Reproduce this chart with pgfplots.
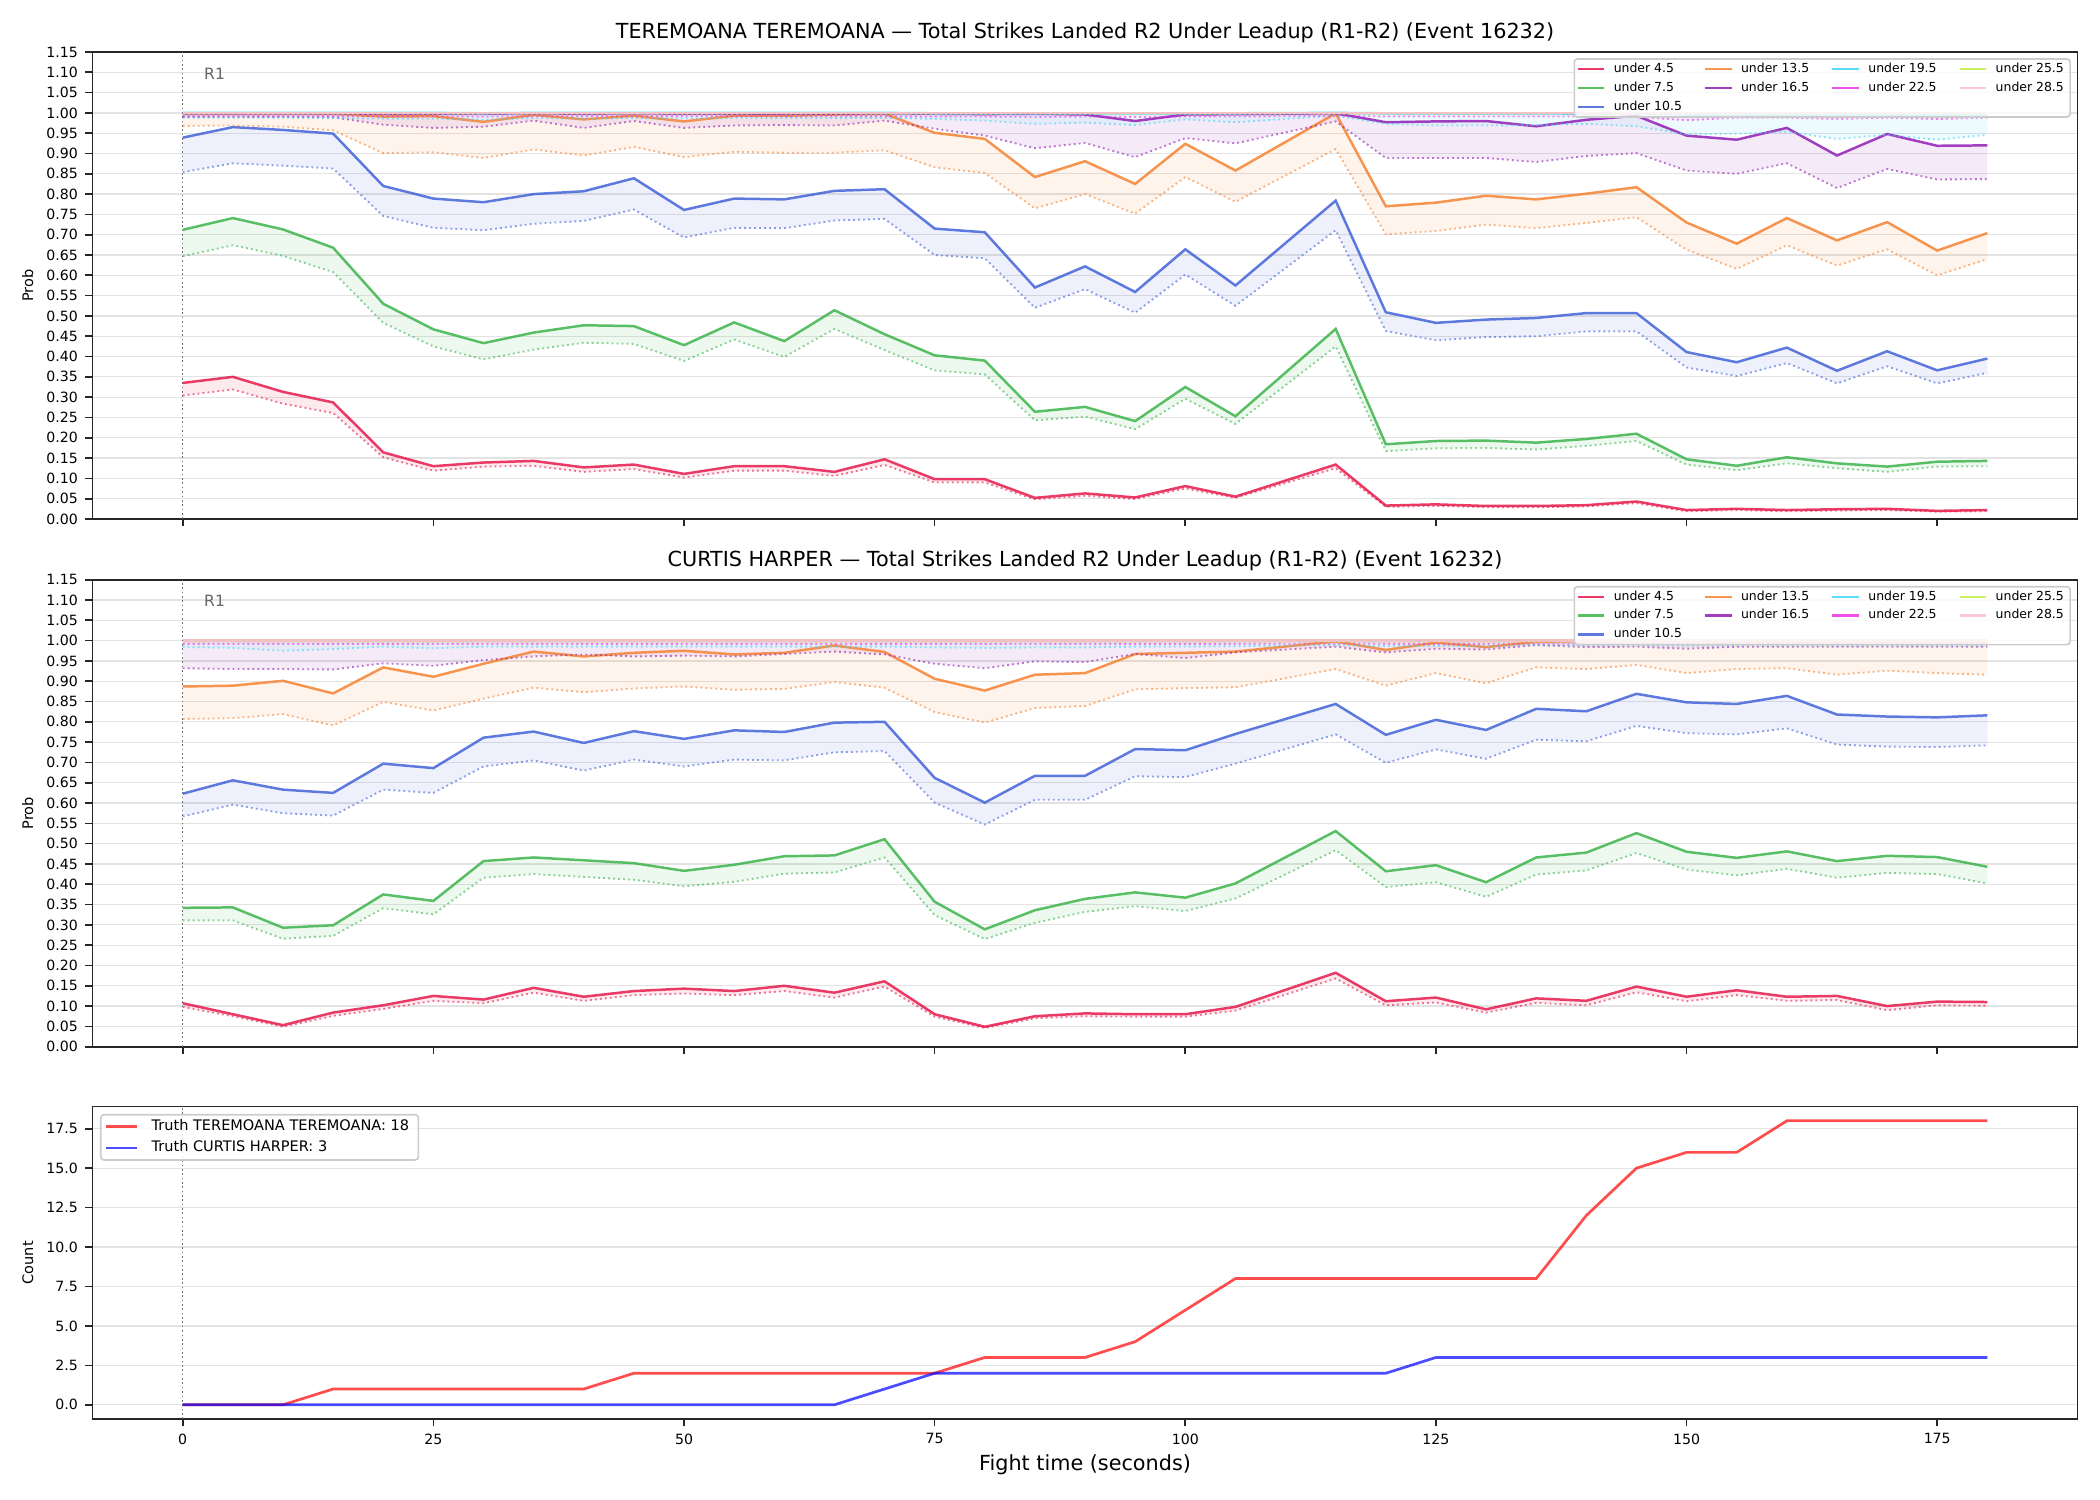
\documentclass[border=0pt]{standalone}
\usepackage{fontspec}
\setmainfont{DejaVu Sans}
\usepackage{pgfplots}
\pgfplotsset{compat=1.18}
\usepackage{pgfplotstable}
\usepgfplotslibrary{fillbetween}

\definecolor{c4}{HTML}{E6194B}
\definecolor{c7}{HTML}{3CB44B}
\definecolor{c10}{HTML}{4363D8}
\definecolor{c13}{HTML}{F58231}
\definecolor{c16}{HTML}{911EB4}
\definecolor{c19}{HTML}{42D4F4}
\definecolor{c22}{HTML}{F032E6}
\definecolor{c25}{HTML}{BFEF45}
\definecolor{c28}{HTML}{FABED4}
\definecolor{truthred}{HTML}{FF0000}
\definecolor{truthblue}{HTML}{0000FF}

% s = latest price, d = lower (dotted) reference, per line
\pgfplotstableread{
x s4 d4 s7 d7 s10 d10 s13 d13 s16 d16 s19 d19 s22 d22 s25 d25 s28 d28
0 0.335 0.304 0.712 0.647 0.939 0.854 0.999 0.968 0.999 0.990 1.000 0.988 1.000 0.992 1.000 0.997 1.000 0.999
5 0.350 0.319 0.741 0.674 0.965 0.876 0.999 0.969 0.999 0.990 1.000 0.988 1.000 0.992 1.000 0.997 1.000 0.999
10 0.313 0.284 0.713 0.648 0.958 0.870 0.999 0.966 0.999 0.990 1.000 0.988 1.000 0.992 1.000 0.997 1.000 0.999
15 0.287 0.261 0.668 0.608 0.949 0.863 0.998 0.957 0.999 0.989 1.000 0.987 1.000 0.992 1.000 0.997 1.000 0.999
20 0.164 0.152 0.530 0.483 0.820 0.746 0.991 0.901 0.998 0.971 1.000 0.986 1.000 0.992 1.000 0.997 1.000 0.999
25 0.130 0.119 0.467 0.425 0.789 0.717 0.992 0.903 0.998 0.963 1.000 0.986 1.000 0.992 1.000 0.997 1.000 0.999
30 0.139 0.129 0.433 0.393 0.780 0.711 0.978 0.889 0.998 0.966 0.999 0.983 1.000 0.991 1.000 0.997 1.000 0.999
35 0.143 0.131 0.459 0.417 0.800 0.727 0.995 0.910 0.999 0.981 1.000 0.987 1.000 0.992 1.000 0.997 1.000 0.999
40 0.127 0.116 0.477 0.434 0.807 0.734 0.984 0.895 0.998 0.963 1.000 0.986 1.000 0.992 1.000 0.997 1.000 0.999
45 0.134 0.123 0.475 0.431 0.839 0.762 0.993 0.916 0.999 0.980 1.000 0.987 1.000 0.992 1.000 0.997 1.000 0.999
50 0.111 0.102 0.428 0.389 0.761 0.693 0.979 0.891 0.998 0.963 1.000 0.986 1.000 0.992 1.000 0.997 1.000 0.999
55 0.130 0.119 0.484 0.442 0.789 0.717 0.993 0.904 0.998 0.969 1.000 0.987 1.000 0.992 1.000 0.997 1.000 0.999
60 0.130 0.119 0.438 0.399 0.787 0.716 0.993 0.902 0.998 0.970 1.000 0.987 1.000 0.992 1.000 0.997 1.000 0.999
65 0.116 0.106 0.514 0.468 0.808 0.735 0.996 0.902 0.998 0.969 1.000 0.987 1.000 0.992 1.000 0.997 1.000 0.999
70 0.147 0.133 0.455 0.416 0.812 0.739 0.998 0.908 0.999 0.981 1.000 0.988 1.000 0.992 1.000 0.997 1.000 0.999
75 0.098 0.090 0.403 0.366 0.715 0.650 0.951 0.866 0.998 0.961 0.999 0.985 1.000 0.991 1.000 0.997 1.000 0.999
80 0.098 0.090 0.390 0.356 0.706 0.642 0.936 0.852 0.997 0.944 0.999 0.981 1.000 0.991 1.000 0.997 1.000 0.999
85 0.052 0.048 0.264 0.243 0.570 0.520 0.842 0.765 0.998 0.913 0.999 0.973 1.000 0.990 1.000 0.997 1.000 0.999
90 0.063 0.057 0.276 0.252 0.622 0.566 0.881 0.800 0.996 0.926 0.999 0.976 1.000 0.991 1.000 0.997 1.000 0.999
95 0.053 0.049 0.241 0.221 0.559 0.508 0.825 0.752 0.980 0.891 0.999 0.970 1.000 0.990 1.000 0.997 1.000 0.999
100 0.081 0.075 0.325 0.296 0.664 0.602 0.924 0.842 0.996 0.938 0.999 0.984 1.000 0.991 1.000 0.997 1.000 0.999
105 0.055 0.052 0.253 0.234 0.575 0.525 0.858 0.781 0.997 0.925 0.999 0.977 1.000 0.991 1.000 0.997 1.000 0.999
115 0.134 0.125 0.468 0.425 0.784 0.711 0.999 0.911 0.999 0.979 1.000 0.993 1.000 0.993 1.000 0.997 1.000 0.999
120 0.033 0.030 0.184 0.167 0.509 0.463 0.770 0.701 0.977 0.889 0.999 0.973 1.000 0.991 1.000 0.997 1.000 0.999
125 0.036 0.032 0.192 0.174 0.483 0.440 0.779 0.709 0.979 0.889 0.999 0.969 1.000 0.991 1.000 0.997 1.000 0.999
130 0.032 0.029 0.193 0.175 0.491 0.448 0.796 0.725 0.980 0.889 0.999 0.969 1.000 0.991 1.000 0.997 1.000 0.999
135 0.032 0.029 0.188 0.171 0.495 0.450 0.787 0.716 0.967 0.879 0.999 0.970 1.000 0.991 1.000 0.997 1.000 0.999
140 0.034 0.031 0.197 0.180 0.507 0.462 0.801 0.729 0.983 0.894 0.998 0.973 1.000 0.991 1.000 0.997 1.000 0.999
145 0.043 0.039 0.210 0.192 0.507 0.462 0.817 0.743 0.993 0.901 0.999 0.967 1.000 0.990 1.000 0.997 1.000 0.999
150 0.022 0.019 0.147 0.134 0.411 0.373 0.730 0.663 0.944 0.858 0.996 0.947 1.000 0.982 1.000 0.997 1.000 0.999
155 0.025 0.022 0.131 0.120 0.386 0.352 0.678 0.616 0.934 0.850 0.996 0.949 1.000 0.988 1.000 0.997 1.000 0.999
160 0.022 0.019 0.152 0.137 0.422 0.384 0.741 0.674 0.963 0.876 0.996 0.953 1.000 0.988 1.000 0.997 1.000 0.999
165 0.024 0.021 0.137 0.125 0.365 0.334 0.686 0.624 0.895 0.815 0.995 0.936 1.000 0.985 1.000 0.997 1.000 0.999
170 0.025 0.022 0.129 0.116 0.413 0.376 0.731 0.664 0.948 0.862 0.996 0.946 1.000 0.988 1.000 0.997 1.000 0.999
175 0.020 0.018 0.141 0.129 0.366 0.334 0.661 0.600 0.919 0.836 0.995 0.934 1.000 0.985 1.000 0.997 1.000 0.999
180 0.022 0.019 0.143 0.130 0.395 0.360 0.704 0.640 0.920 0.837 0.996 0.946 1.000 0.988 1.000 0.997 1.000 0.999
}\teremoana

\pgfplotstableread{
x s4 d4 s7 d7 s10 d10 s13 d13 s16 d16 s19 d19 s22 d22 s25 d25 s28 d28
0 0.107 0.098 0.342 0.311 0.623 0.567 0.887 0.807 0.999 0.932 1.000 0.984 1.000 0.992 1.000 0.997 1.000 0.999
5 0.080 0.075 0.343 0.311 0.656 0.596 0.889 0.809 0.999 0.930 1.000 0.982 1.000 0.992 1.000 0.997 1.000 0.999
10 0.053 0.049 0.293 0.266 0.633 0.575 0.901 0.819 0.999 0.930 1.000 0.975 1.000 0.992 1.000 0.997 1.000 0.999
15 0.084 0.076 0.299 0.273 0.625 0.569 0.870 0.791 0.999 0.929 1.000 0.979 1.000 0.992 1.000 0.997 1.000 0.999
20 0.102 0.093 0.375 0.341 0.697 0.633 0.934 0.849 0.999 0.944 1.000 0.985 1.000 0.992 1.000 0.997 1.000 0.999
25 0.125 0.113 0.359 0.326 0.686 0.625 0.911 0.828 0.999 0.938 1.000 0.981 1.000 0.992 1.000 0.997 1.000 0.999
30 0.116 0.107 0.457 0.416 0.761 0.690 0.943 0.857 0.999 0.952 1.000 0.985 1.000 0.992 1.000 0.997 1.000 0.999
35 0.145 0.133 0.466 0.425 0.776 0.705 0.973 0.884 0.999 0.961 1.000 0.985 1.000 0.992 1.000 0.997 1.000 0.999
40 0.123 0.113 0.459 0.418 0.748 0.680 0.961 0.873 0.999 0.966 1.000 0.985 1.000 0.992 1.000 0.997 1.000 0.999
45 0.137 0.127 0.452 0.411 0.777 0.707 0.970 0.882 0.999 0.961 1.000 0.985 1.000 0.992 1.000 0.997 1.000 0.999
50 0.143 0.131 0.433 0.395 0.758 0.690 0.975 0.887 0.999 0.963 1.000 0.985 1.000 0.992 1.000 0.997 1.000 0.999
55 0.137 0.127 0.448 0.406 0.779 0.707 0.966 0.879 0.999 0.961 1.000 0.985 1.000 0.992 1.000 0.997 1.000 0.999
60 0.150 0.137 0.469 0.426 0.775 0.705 0.970 0.881 0.999 0.967 1.000 0.985 1.000 0.992 1.000 0.997 1.000 0.999
65 0.133 0.121 0.471 0.429 0.798 0.725 0.988 0.898 0.999 0.973 1.000 0.985 1.000 0.992 1.000 0.997 1.000 0.999
70 0.161 0.148 0.511 0.466 0.800 0.728 0.972 0.884 0.999 0.966 1.000 0.985 1.000 0.992 1.000 0.997 1.000 0.999
75 0.080 0.074 0.357 0.324 0.662 0.601 0.906 0.824 0.999 0.943 1.000 0.983 1.000 0.992 1.000 0.997 1.000 0.999
80 0.049 0.046 0.289 0.265 0.601 0.547 0.877 0.798 0.999 0.932 1.000 0.982 1.000 0.992 1.000 0.997 1.000 0.999
85 0.075 0.070 0.336 0.305 0.667 0.608 0.916 0.834 0.999 0.949 1.000 0.983 1.000 0.992 1.000 0.997 1.000 0.999
90 0.082 0.075 0.364 0.332 0.667 0.608 0.920 0.839 0.999 0.947 1.000 0.983 1.000 0.992 1.000 0.997 1.000 0.999
95 0.080 0.074 0.380 0.346 0.733 0.666 0.967 0.880 0.999 0.967 1.000 0.985 1.000 0.992 1.000 0.997 1.000 0.999
100 0.080 0.074 0.367 0.334 0.730 0.664 0.970 0.883 0.999 0.957 1.000 0.985 1.000 0.992 1.000 0.997 1.000 0.999
105 0.098 0.089 0.402 0.365 0.770 0.697 0.973 0.885 0.999 0.971 1.000 0.986 1.000 0.992 1.000 0.997 1.000 0.999
115 0.182 0.168 0.531 0.484 0.844 0.769 0.998 0.930 0.999 0.985 1.000 0.989 1.000 0.993 1.000 0.997 1.000 0.999
120 0.112 0.102 0.432 0.393 0.768 0.699 0.977 0.889 0.999 0.971 1.000 0.986 1.000 0.992 1.000 0.997 1.000 0.999
125 0.121 0.109 0.447 0.405 0.805 0.732 0.995 0.920 0.999 0.980 1.000 0.987 1.000 0.992 1.000 0.997 1.000 0.999
130 0.092 0.084 0.405 0.369 0.780 0.709 0.984 0.895 0.999 0.978 1.000 0.986 1.000 0.992 1.000 0.997 1.000 0.999
135 0.119 0.108 0.466 0.424 0.832 0.756 0.997 0.934 0.999 0.989 1.000 0.989 1.000 0.993 1.000 0.997 1.000 0.999
140 0.113 0.102 0.478 0.434 0.826 0.752 0.999 0.930 0.999 0.984 1.000 0.988 1.000 0.992 1.000 0.997 1.000 0.999
145 0.148 0.134 0.526 0.477 0.869 0.790 1.000 0.940 0.999 0.985 1.000 0.989 1.000 0.993 1.000 0.997 1.000 0.999
150 0.123 0.112 0.480 0.436 0.848 0.772 0.999 0.920 0.999 0.980 1.000 0.987 1.000 0.992 1.000 0.997 1.000 0.999
155 0.139 0.127 0.465 0.422 0.844 0.769 0.999 0.930 0.999 0.985 1.000 0.988 1.000 0.992 1.000 0.997 1.000 0.999
160 0.123 0.113 0.481 0.438 0.864 0.784 0.999 0.932 0.999 0.985 1.000 0.988 1.000 0.992 1.000 0.997 1.000 0.999
165 0.125 0.115 0.457 0.416 0.818 0.744 0.999 0.916 0.999 0.985 1.000 0.988 1.000 0.992 1.000 0.997 1.000 0.999
170 0.100 0.090 0.470 0.428 0.813 0.739 0.999 0.926 0.999 0.985 1.000 0.988 1.000 0.992 1.000 0.997 1.000 0.999
175 0.111 0.102 0.467 0.425 0.811 0.738 0.999 0.920 0.999 0.985 1.000 0.988 1.000 0.992 1.000 0.997 1.000 0.999
180 0.110 0.101 0.443 0.402 0.816 0.742 0.999 0.916 0.999 0.985 1.000 0.988 1.000 0.992 1.000 0.997 1.000 0.999
}\harper

\pgfplotstableread{
x red blue
0 0 0
5 0 0
10 0 0
15 1 0
20 1 0
25 1 0
30 1 0
35 1 0
40 1 0
45 2 0
50 2 0
55 2 0
60 2 0
65 2 0
70 2 1
75 2 2
80 3 2
85 3 2
90 3 2
95 4 2
100 6 2
105 8 2
110 8 2
115 8 2
120 8 2
125 8 3
130 8 3
135 8 3
140 12 3
145 15 3
150 16 3
155 16 3
160 18 3
165 18 3
170 18 3
175 18 3
180 18 3
}\truth

% one threshold: solid line, dotted line and the band between them
\newcommand{\band}[4]{%
  \addplot[forget plot, name path=#2s#3, draw=#4, draw opacity=0.85, line width=1.2pt] table[x=x, y=s#3] {#1};
  \addplot[forget plot, name path=#2d#3, draw=#4, draw opacity=0.6, line width=0.9pt, dash pattern=on 0.9pt off 1.5pt] table[x=x, y=d#3] {#1};
  \addplot[forget plot, draw=none, fill=#4, fill opacity=0.09] fill between[of=#2s#3 and #2d#3];
}

\newcommand{\thresholdlegend}{%
  \addlegendimage{c4, line width=1.2pt, opacity=0.85}\addlegendentry{under 4.5}
  \addlegendimage{c13, line width=1.2pt, opacity=0.85}\addlegendentry{under 13.5}
  \addlegendimage{c19, line width=1.2pt, opacity=0.85}\addlegendentry{under 19.5}
  \addlegendimage{c25, line width=1.2pt, opacity=0.85}\addlegendentry{under 25.5}
  \addlegendimage{c7, line width=1.2pt, opacity=0.85}\addlegendentry{under 7.5}
  \addlegendimage{c16, line width=1.2pt, opacity=0.85}\addlegendentry{under 16.5}
  \addlegendimage{c22, line width=1.2pt, opacity=0.85}\addlegendentry{under 22.5}
  \addlegendimage{c28, line width=1.2pt, opacity=0.85}\addlegendentry{under 28.5}
  \addlegendimage{c10, line width=1.2pt, opacity=0.85}\addlegendentry{under 10.5}
}

\pgfplotsset{
  panel/.style={
    scale only axis, width=956.4pt, anchor=south west,
    xmin=-9, xmax=189,
    xtick={0,25,50,75,100,125,150,175},
    axis line style={line width=0.8pt, black!85},
    tick align=outside, xtick pos=bottom, ytick pos=left,
    major tick length=3.5pt,
    every tick/.style={black!85, line width=0.8pt},
    ymajorgrids, grid style={black!11, line width=0.6pt},
    tick label style={font=\fontsize{6.8}{8}\selectfont},
    /pgf/number format/assume math mode=true,
    scaled ticks=false,
    every axis title/.style={at={(0.5,1)}, anchor=base, yshift=6.5pt, font=\fontsize{10}{12}\selectfont},
    every axis y label/.style={at={(axis description cs:-0.0326,0.5)}, rotate=90, anchor=center, font=\fontsize{7}{8}\selectfont},
  },
  probpanel/.style={
    panel, height=225pt,
    ymin=0, ymax=1.15,
    ytick={0,0.05,0.1,0.15,0.2,0.25,0.3,0.35,0.4,0.45,0.5,0.55,0.6,0.65,0.7,0.75,0.8,0.85,0.9,0.95,1,1.05,1.1,1.15},
    yticklabel style={/pgf/number format/.cd, fixed, fixed zerofill, precision=2},
    xticklabels={},
    ylabel={Prob},
    legend columns=4, legend cell align=left,
    legend image code/.code={\draw[##1] (0pt,0pt) -- (12.8pt,0pt);},
    legend style={
      at={(1,1)}, anchor=north east, xshift=-3.2pt, yshift=-3pt,
      draw=black!20, line width=0.8pt, rounded corners=1.5pt,
      fill=white, fill opacity=0.8, text opacity=1,
      font=\fontsize{6}{7}\selectfont,
      inner xsep=1pt, inner ysep=0.3pt,
      nodes={inner xsep=2pt, inner ysep=1.7pt, text height=4.4pt, text depth=1.3pt},
      /tikz/every odd column/.append style={column sep=2pt},
      /tikz/every even column/.append style={column sep=8.5pt},
    },
  },
}

\begin{document}
\begin{tikzpicture}
\path (0,0) rectangle (1011.78pt,722.7pt);

% upper panel
\begin{axis}[probpanel, at={(44.57pt,472.65pt)},
  title={TEREMOANA TEREMOANA — Total Strikes Landed R2 Under Leadup (R1-R2) (Event 16232)}]
  \addplot[forget plot, black!55, line width=0.7pt, dash pattern=on 0.8pt off 1.3pt] coordinates {(0,0) (0,1.15)};
  \band{\teremoana}{t}{4}{c4}
  \band{\teremoana}{t}{7}{c7}
  \band{\teremoana}{t}{10}{c10}
  \band{\teremoana}{t}{13}{c13}
  \band{\teremoana}{t}{16}{c16}
  \band{\teremoana}{t}{19}{c19}
  \band{\teremoana}{t}{22}{c22}
  \band{\teremoana}{t}{25}{c25}
  \band{\teremoana}{t}{28}{c28}
  \node[anchor=west, inner sep=0pt, text=black!60, font=\fontsize{7.5}{9}\selectfont] at (axis cs:2.1,1.097) {R1};
  \thresholdlegend
\end{axis}

% middle panel
\begin{axis}[probpanel, at={(44.57pt,218.4pt)},
  title={CURTIS HARPER — Total Strikes Landed R2 Under Leadup (R1-R2) (Event 16232)}]
  \addplot[forget plot, black!55, line width=0.7pt, dash pattern=on 0.8pt off 1.3pt] coordinates {(0,0) (0,1.15)};
  \band{\harper}{h}{4}{c4}
  \band{\harper}{h}{7}{c7}
  \band{\harper}{h}{10}{c10}
  \band{\harper}{h}{13}{c13}
  \band{\harper}{h}{16}{c16}
  \band{\harper}{h}{19}{c19}
  \band{\harper}{h}{22}{c22}
  \band{\harper}{h}{25}{c25}
  \band{\harper}{h}{28}{c28}
  \node[anchor=west, inner sep=0pt, text=black!60, font=\fontsize{7.5}{9}\selectfont] at (axis cs:2.1,1.097) {R1};
  \thresholdlegend
\end{axis}

% cumulative counts
\begin{axis}[panel, at={(44.57pt,39.03pt)}, height=150.5pt,
  ymin=-0.9, ymax=18.9,
  ytick={0,2.5,5,7.5,10,12.5,15,17.5},
  yticklabel style={/pgf/number format/.cd, fixed, fixed zerofill, precision=1},
  xticklabel style={/pgf/number format/.cd, fixed, precision=0},
  ylabel={Count},
  xlabel={Fight time (seconds)},
  every axis x label/.style={at={(axis description cs:0.5,-0.1475)}, anchor=center, font=\fontsize{10}{12}\selectfont},
  legend cell align=left,
  legend image code/.code={\draw[#1] (0pt,0pt) -- (14.7pt,0pt);},
  legend style={
    at={(0,1)}, anchor=north west, xshift=3.6pt, yshift=-3.5pt,
    draw=black!20, line width=0.8pt, rounded corners=1.5pt,
    fill=white, fill opacity=0.8, text opacity=1,
    font=\fontsize{7}{8}\selectfont,
    inner xsep=2pt, inner ysep=0.6pt,
    nodes={inner xsep=2.5pt, inner ysep=1.85pt, text height=5.1pt, text depth=1.5pt},
    /tikz/every odd column/.append style={column sep=4pt},
  },
]
  \addplot[forget plot, black!55, line width=0.7pt, dash pattern=on 0.8pt off 1.3pt] coordinates {(0,-0.9) (0,18.9)};
  \addplot[truthred, opacity=0.7, line width=1.3pt] table[x=x, y=red] {\truth};
  \addlegendentry{Truth TEREMOANA TEREMOANA: 18}
  \addplot[truthblue, opacity=0.7, line width=1.3pt] table[x=x, y=blue] {\truth};
  \addlegendentry{Truth CURTIS HARPER: 3}
\end{axis}
\end{tikzpicture}
\end{document}
